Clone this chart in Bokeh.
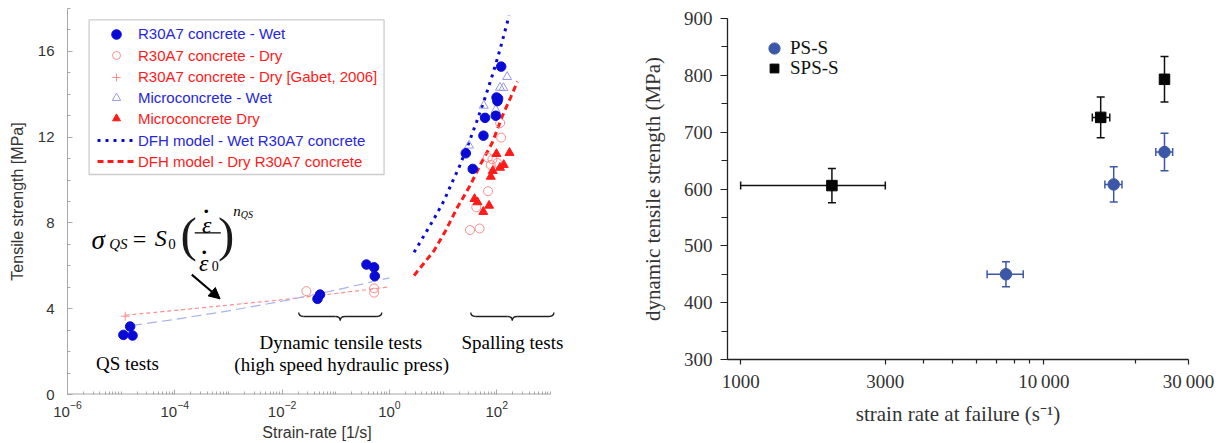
import math

from bokeh.plotting import figure
from bokeh.layouts import row
from bokeh.models import (ColumnDataSource, Legend, LegendItem, BoxAnnotation, Label,
                          Arrow, NormalHead, Whisker, TeeHead, FixedTicker)
from bokeh.embed import file_html
from bokeh.resources import INLINE

# ---------------- left panel: tensile strength of concrete vs strain rate ----------------
wet_rate = [1.1e-5, 1.63e-5, 1.47e-5, 0.0456, 0.0509, 0.373, 0.518, 0.533,
            121, 99, 106, 103, 60.5, 95.9, 56.5, 26.5, 35.7]
wet_strength = [2.78, 2.75, 3.17, 4.46, 4.66, 6.06, 5.93, 5.52,
                15.29, 13.85, 13.8, 13.68, 12.9, 13.0, 12.07, 11.25, 10.52]

dry_rate = [0.0284, 0.518, 0.518, 116, 121, 68, 83, 103, 77.4, 68.9, 41.5, 31.7, 47.9]
dry_strength = [4.82, 4.95, 4.75, 12.66, 11.98, 11.05, 10.97, 10.79, 10.7, 9.48, 8.73, 7.67, 7.74]

gabet_rate = [1.19e-5]
gabet_strength = [3.65]

micro_wet_rate = [156, 115, 133, 57.3, 96, 30.5]
micro_wet_strength = [14.81, 14.31, 14.3, 13.47, 13.27, 11.61]

micro_dry_rate = [98.8, 173, 135, 115, 84.3, 77.4, 38.5, 43.7, 72, 56.1]
micro_dry_strength = [11.22, 11.27, 10.71, 10.58, 10.43, 10.16, 9.12, 8.97, 8.81, 8.52]

dfh_wet_rate = [2.88, 6.8, 10.4, 14.3, 19.9, 30.5, 41.9, 58, 83.2, 114, 170]
dfh_wet_strength = [6.63, 8.2, 9.04, 9.82, 10.6, 11.76, 12.7, 13.7, 14.9, 16.05, 17.67]

dfh_dry_rate = [2.88, 6.8, 11.2, 18.5, 31.8, 50.4, 83.2, 128, 182, 243]
dfh_dry_strength = [5.55, 6.71, 7.65, 8.73, 9.74, 10.76, 11.76, 13.0, 13.86, 14.59]

qs_wet_rate = [1.6e-5, 1e-4, 1e-3, 1e-2, 1e-1, 1.0]
qs_wet_strength = [3.22, 3.5, 3.9, 4.35, 4.87, 5.44]

qs_dry_rate = [1.2e-5, 1e-4, 1e-3, 1e-2, 1e-1, 1.0]
qs_dry_strength = [3.70, 3.92, 4.17, 4.42, 4.71, 5.02]

left_x_major = [1e-6, 1e-4, 1e-2, 1, 1e2]
left_y_major = [0, 4, 8, 12, 16]

# ---------------- right panel: dynamic tensile strength vs strain rate at failure ----------------
ps_rate = [7500, 17000, 25000]
ps_rate_lo = [6500, 15900, 23400]
ps_rate_hi = [8550, 18100, 26600]
ps_strength = [450, 608, 665]
ps_err = [22, 31, 33]

sps_rate = [2000, 15400, 25000]
sps_rate_lo = [1000, 14450, 25000]
sps_rate_hi = [3000, 16500, 25000]
sps_strength = [606, 726, 793]
sps_err = [30, 36, 40]

right_x_major = [1000, 3000, 10000, 30000]
right_x_labels = ["1000", "3000", "10\u2009000", "30\u2009000"]
right_x_minor = [4000, 5000, 6000, 7000, 8000, 9000, 20000]
right_y_major = [300, 400, 500, 600, 700, 800, 900]

SANS = "Liberation Sans"
SERIF = "Liberation Serif"
BLUE = "#0a0ad6"
BLUE_TXT = "#2626e0"
RED = "#ff1a1a"
PINK = "#ff8c8c"
LAVENDER = "#9a9ae8"
PS_BLUE = "#3d57a8"
AXIS_GREY = "#a8a8a8"

# ======================= left figure =======================
L_W, L_H = 600, 443
L_TOP, L_BOTTOM = 8, 49
X_AXIS_END = 1e3
# the frame runs a little past the last decade so the right-hand annotation fits
left = figure(width=L_W, height=L_H, x_axis_type="log", x_range=(1e-6, 10 ** 3.3), y_range=(0, 18),
              output_backend="svg", toolbar_location=None,
              min_border_left=67, min_border_right=34, min_border_top=L_TOP, min_border_bottom=L_BOTTOM)
left.frame_align = False
left.grid.visible = False
left.outline_line_color = None
left.background_fill_color = "white"

xa = left.xaxis[0]
xa.ticker = FixedTicker(ticks=left_x_major,
                        minor_ticks=[m * 10.0 ** d for d in range(-6, 3) for m in range(1, 10)] + [X_AXIS_END])
ya = left.yaxis[0]
ya.ticker = FixedTicker(ticks=left_y_major, minor_ticks=list(range(0, 19)))
for ax in (xa, ya):
    ax.axis_line_color = AXIS_GREY
    ax.major_tick_line_color = AXIS_GREY
    ax.minor_tick_line_color = AXIS_GREY
    ax.major_tick_in = 5
    ax.major_tick_out = 0
    ax.minor_tick_in = 3
    ax.minor_tick_out = 0
    ax.major_label_text_font = SANS
    ax.major_label_text_font_size = "15px"
    ax.major_label_text_color = "#333333"
    ax.axis_label_text_font = SANS
    ax.axis_label_text_font_size = "16px"
    ax.axis_label_text_font_style = "normal"
    ax.axis_label_text_color = "#333333"
xa.axis_line_color = None
xa.axis_label = "Strain-rate [1/s]"
xa.major_label_standoff = 6
xa.axis_label_standoff = 4
ya.axis_label = "Tensile strength [MPa]"
ya.major_label_standoff = 13
ya.axis_label_standoff = 9
# bottom axis line stops at the last decade
left.add_layout(Arrow(x_start=1e-6, y_start=0, x_end=X_AXIS_END, y_end=0, start=None, end=None,
                      line_color=AXIS_GREY, line_width=2))

# power-law fits of the quasi-static and hydraulic-press tests
left.line(qs_dry_rate, qs_dry_strength, line_color=PINK, line_width=1.2, line_dash="4 3")
left.line(qs_wet_rate, qs_wet_strength, line_color="#aab0f0", line_width=1.2, line_dash="10 5")

# DFH model curves
r_dfh_wet = left.line(dfh_wet_rate, dfh_wet_strength, line_color=BLUE, line_width=3, line_dash="3 5")
r_dfh_dry = left.line(dfh_dry_rate, dfh_dry_strength, line_color=RED, line_width=3, line_dash="6 4")

# measurements
r_dry = left.scatter(dry_rate, dry_strength, marker="circle", size=9, fill_color=None,
                     line_color=PINK, line_width=1)
r_gabet = left.scatter(gabet_rate, gabet_strength, marker="cross", size=9, line_color=PINK, line_width=1)
r_mwet = left.scatter(micro_wet_rate, micro_wet_strength, marker="triangle", size=9, fill_color=None,
                      line_color=LAVENDER, line_width=1)
r_mdry = left.scatter(micro_dry_rate, micro_dry_strength, marker="triangle", size=9,
                      fill_color=RED, line_color=RED)
r_wet = left.scatter(wet_rate, wet_strength, marker="circle", size=9.5, fill_color=BLUE, line_color=BLUE)

# legend: one single-row legend per entry so each label keeps its own colour
frame_h = L_H - L_TOP - L_BOTTOM
legend_rows = [
    ("R30A7 concrete - Wet", r_wet, BLUE_TXT, 24, 25.7),
    ("R30A7 concrete - Dry", r_dry, RED, 20, 47.0),
    ("R30A7 concrete - Dry [Gabet, 2006]", r_gabet, RED, 20, 68.7),
    ("Microconcrete - Wet", r_mwet, BLUE_TXT, 21, 89.7),
    ("Microconcrete Dry", r_mdry, RED, 20, 110.3),
    ("DFH model - Wet R30A7 concrete", r_dfh_wet, BLUE_TXT, 20, 132.0),
    ("DFH model - Dry R30A7 concrete", r_dfh_dry, RED, 20, 153.0),
]
for text, rend, color, gh, off in legend_rows:
    leg = Legend(items=[LegendItem(label=text, renderers=[rend])],
                 location=(30, frame_h - off - gh / 2),
                 glyph_width=38, glyph_height=gh, label_height=gh, label_standoff=3,
                 padding=0, spacing=0, margin=0,
                 label_text_font=SANS, label_text_font_size="15px", label_text_color=color,
                 background_fill_alpha=0, border_line_alpha=0)
    left.add_layout(leg)

left.add_layout(BoxAnnotation(left=2.53e-6, right=0.794, top=17.47, bottom=10.26,
                              fill_color=None, line_color="#555555", line_width=1.3))


def label(p, x, y, text, size, style="normal", align="left", baseline="alphabetic",
          font=SERIF, color="black"):
    p.add_layout(Label(x=x, y=y, text=text, text_font=font, text_font_size=f"{size}px",
                       text_font_style=style, text_align=align, text_baseline=baseline,
                       text_color=color))


# quasi-static law  sigma_QS = S0 (eps_dot / eps_dot_0) ^ n_QS
label(left, 2.8e-6, 7.21, "\u03c3", 27, style="italic")
label(left, 6.0e-6, 7.02, "QS", 15, style="italic")
label(left, 1.65e-5, 7.23, "=", 24)
label(left, 4.24e-5, 7.30, "S", 24, style="italic")
label(left, 7.55e-5, 7.04, "0", 15)
label(left, 1.28e-4, 7.45, "(", 49, baseline="middle", color="#1a1a1a")
label(left, 3.94e-4, 7.90, "\u03b5", 24, style="italic", align="center")
label(left, 3.85e-4, 8.60, "\u00b7", 30, align="center", baseline="middle")
left.add_layout(Arrow(x_start=2.35e-4, y_start=7.54, x_end=7.19e-4, y_end=7.54,
                      start=None, end=None, line_color="black", line_width=1.2))
label(left, 3.47e-4, 6.13, "\u03b5", 24, style="italic", align="center")
label(left, 3.55e-4, 6.68, "\u00b7", 30, align="center", baseline="middle")
label(left, 4.89e-4, 5.97, "0", 14)
label(left, 6.4e-4, 7.45, ")", 49, baseline="middle", color="#1a1a1a")
label(left, 1.23e-3, 8.55, "n", 15, style="italic")
label(left, 1.70e-3, 8.40, "QS", 10, style="italic")

left.add_layout(Arrow(x_start=2.07e-4, y_start=5.59, x_end=6.98e-4, y_end=4.46,
                      line_color="black", line_width=2,
                      end=NormalHead(size=11, fill_color="black", line_color="black")))

# test-regime annotations
label(left, 1.31e-5, 1.45, "QS tests", 19, align="center")
label(left, 0.124, 2.44, "Dynamic tensile tests", 19, align="center")
label(left, 0.129, 1.42, "(high speed hydraulic press)", 19, align="center")
label(left, 196, 2.44, "Spalling tests", 19, align="center")


def brace(lo, hi, y_end, y_mid, y_tip, curl=0.09):
    a, b = math.log10(lo), math.log10(hi)
    m = (a + b) / 2
    parts = [
        ((a, y_end), (a + curl, y_mid), (a, y_mid)),
        ((a + curl, y_mid), (m - curl, y_mid), ((a + m) / 2, y_mid)),
        ((m - curl, y_mid), (m, y_tip), (m, y_mid)),
        ((m, y_tip), (m + curl, y_mid), (m, y_mid)),
        ((m + curl, y_mid), (b - curl, y_mid), ((m + b) / 2, y_mid)),
        ((b - curl, y_mid), (b, y_end), (b, y_mid)),
    ]
    cols = dict(x0=[], y0=[], x1=[], y1=[], cx=[], cy=[])
    for (p0, p1, c) in parts:
        cols["x0"].append(10 ** p0[0]); cols["y0"].append(p0[1])
        cols["x1"].append(10 ** p1[0]); cols["y1"].append(p1[1])
        cols["cx"].append(10 ** c[0]); cols["cy"].append(c[1])
    return cols


for lo, hi in [(0.0204, 0.719), (32.8, 1160)]:
    left.quadratic(source=ColumnDataSource(brace(lo, hi, 3.82, 3.64, 3.45)),
                   x0="x0", y0="y0", x1="x1", y1="y1", cx="cx", cy="cy",
                   line_color="#222222", line_width=1.4)

# ======================= right figure =======================
R_W, R_H = 627, 443
R_TOP, R_BOTTOM = 18, 84
right = figure(width=R_W, height=R_H, x_axis_type="log", x_range=(905, 30000), y_range=(300, 900),
               output_backend="svg", toolbar_location=None,
               min_border_left=127, min_border_right=39, min_border_top=R_TOP, min_border_bottom=R_BOTTOM)
right.frame_align = False
right.grid.visible = False
right.outline_line_color = None

xr = right.xaxis[0]
xr.ticker = FixedTicker(ticks=right_x_major, minor_ticks=right_x_minor)
xr.major_label_overrides = dict(zip(right_x_major, right_x_labels))
yr = right.yaxis[0]
yr.ticker = FixedTicker(ticks=right_y_major, minor_ticks=list(range(300, 901, 50)))
for ax in (xr, yr):
    ax.axis_line_color = "#222222"
    ax.axis_line_width = 1.3
    ax.major_tick_line_color = "#222222"
    ax.minor_tick_line_color = "#222222"
    ax.major_tick_line_width = 1.2
    ax.minor_tick_line_width = 1.2
    ax.major_tick_in = 0
    ax.minor_tick_in = 0
    ax.major_label_text_font = SERIF
    ax.major_label_text_font_size = "19px"
    ax.major_label_text_color = "#333333"
    ax.axis_label_text_font = SERIF
    ax.axis_label_text_font_size = "21px"
    ax.axis_label_text_font_style = "normal"
    ax.axis_label_text_color = "#333333"
xr.major_tick_out = 5
xr.minor_tick_out = 4
xr.major_label_standoff = 6
xr.axis_label_standoff = 7
xr.axis_label = "strain rate at failure (s\u207b\u00b9)"
yr.major_tick_out = 7
yr.minor_tick_out = 6
yr.major_label_standoff = 8
yr.axis_label_standoff = 16
yr.axis_label = "dynamic tensile strength (MPa)"

ps_src = ColumnDataSource(dict(x=ps_rate, y=ps_strength, xlo=ps_rate_lo, xhi=ps_rate_hi,
                               ylo=[v - e for v, e in zip(ps_strength, ps_err)],
                               yhi=[v + e for v, e in zip(ps_strength, ps_err)]))
sps_src = ColumnDataSource(dict(x=sps_rate, y=sps_strength, xlo=sps_rate_lo, xhi=sps_rate_hi,
                                ylo=[v - e for v, e in zip(sps_strength, sps_err)],
                                yhi=[v + e for v, e in zip(sps_strength, sps_err)]))

for src, col in ((ps_src, PS_BLUE), (sps_src, "#111111")):
    right.add_layout(Whisker(source=src, base="x", lower="ylo", upper="yhi", dimension="height",
                             line_color=col, line_width=1.5, level="underlay",
                             lower_head=TeeHead(size=8, line_color=col, line_width=1.5),
                             upper_head=TeeHead(size=8, line_color=col, line_width=1.5)))
    right.add_layout(Whisker(source=src, base="y", lower="xlo", upper="xhi", dimension="width",
                             line_color=col, line_width=1.5, level="underlay",
                             lower_head=TeeHead(size=8, line_color=col, line_width=1.5),
                             upper_head=TeeHead(size=8, line_color=col, line_width=1.5)))

r_ps = right.scatter("x", "y", source=ps_src, marker="circle", size=11.5,
                     fill_color=PS_BLUE, line_color=PS_BLUE)
r_sps = right.scatter("x", "y", source=sps_src, marker="square", size=10.5,
                      fill_color="#050505", line_color="#050505")

rframe_h = R_H - R_TOP - R_BOTTOM
for text, rend, g, gx, off, standoff in (("PS-S", r_ps, 28, 33, 29.5, 2),
                                        ("SPS-S", r_sps, 22, 36, 50.0, 5)):
    right.add_layout(Legend(items=[LegendItem(label=text, renderers=[rend])],
                            location=(gx, rframe_h - off - g / 2),
                            glyph_width=g, glyph_height=g, label_height=g, label_standoff=standoff,
                            padding=0, spacing=0, margin=0,
                            label_text_font=SERIF, label_text_font_size="19px",
                            label_text_color="#111111",
                            background_fill_alpha=0, border_line_alpha=0))

layout = row(left, right)
open("out.html", "w").write(file_html(layout, INLINE))
